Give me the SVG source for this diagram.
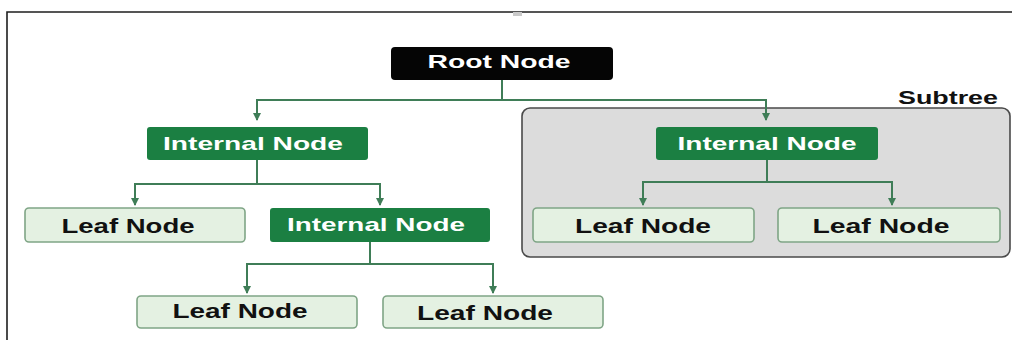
<svg xmlns="http://www.w3.org/2000/svg" width="1012" height="340" viewBox="0 0 1012 340">
  <style>
    .lbl { font-family: "Liberation Sans", Arial, sans-serif; font-weight: bold; font-size: 19px; text-anchor: middle; }
    .big { font-size: 20px; }
    .light { fill: #ffffff; }
    .dark { fill: #111111; }
    .root { fill: #050505; }
    .internal { fill: #1b7f42; }
    .leaf { fill: #e4f1e2; stroke: #7fa586; stroke-width: 1.6; }
    .edge { fill: none; stroke: #3f7d57; stroke-width: 2; }
  </style>
  <defs>
    <marker id="arrow" viewBox="0 0 8 8" refX="7" refY="4" markerWidth="8" markerHeight="8" markerUnits="userSpaceOnUse" orient="auto">
      <path d="M0,0 L8,4 L0,8 Z" fill="#3f7d57"/>
    </marker>
  </defs>

  <rect width="1012" height="340" fill="#ffffff"/>

  <!-- page frame -->
  <g id="frame">
    <path d="M7,340 V12 H1012" fill="none" stroke="#1e1e1e" stroke-width="1.6"/>
    <rect x="513" y="12" width="9" height="4" fill="#c9c9c9"/>
  </g>

  <!-- subtree panel -->
  <g id="subtree">
    <rect x="522" y="108" width="488" height="149" rx="8" fill="#dcdcdc" stroke="#4a4a4a" stroke-width="1.6"/>
    <text class="lbl dark" x="948" y="104" textLength="100" lengthAdjust="spacingAndGlyphs">Subtree</text>
  </g>

  <!-- connectors -->
  <g id="connectors">
    <path class="edge" d="M502,80 V100 H257 V120" marker-end="url(#arrow)"/>
    <path class="edge" d="M502,100 H766 V120" marker-end="url(#arrow)"/>
    <path class="edge" d="M257,160 V184 H135 V205" marker-end="url(#arrow)"/>
    <path class="edge" d="M257,184 H380 V205" marker-end="url(#arrow)"/>
    <path class="edge" d="M370,242 V264 H247 V293" marker-end="url(#arrow)"/>
    <path class="edge" d="M370,264 H493 V293" marker-end="url(#arrow)"/>
    <path class="edge" d="M767,160 V182 H643 V205" marker-end="url(#arrow)"/>
    <path class="edge" d="M767,182 H892 V205" marker-end="url(#arrow)"/>
  </g>

  <!-- nodes -->
  <g id="root">
    <rect class="root" x="391" y="47" width="222" height="33" rx="4"/>
    <text class="lbl light" x="499" y="68" textLength="143" lengthAdjust="spacingAndGlyphs">Root Node</text>
  </g>

  <g id="internal-left">
    <rect class="internal" x="147" y="127" width="221" height="33" rx="3"/>
    <text class="lbl light" x="253" y="150" textLength="180" lengthAdjust="spacingAndGlyphs">Internal Node</text>
  </g>

  <g id="internal-right">
    <rect class="internal" x="656" y="127" width="222" height="33" rx="3"/>
    <text class="lbl light" x="767" y="150" textLength="179" lengthAdjust="spacingAndGlyphs">Internal Node</text>
  </g>

  <g id="leaf-1">
    <rect class="leaf" x="25" y="208" width="220" height="34" rx="4"/>
    <text class="lbl big dark" x="128" y="233" textLength="133" lengthAdjust="spacingAndGlyphs">Leaf Node</text>
  </g>

  <g id="internal-mid">
    <rect class="internal" x="270" y="208" width="220" height="34" rx="3"/>
    <text class="lbl light" x="376" y="231" textLength="178" lengthAdjust="spacingAndGlyphs">Internal Node</text>
  </g>

  <g id="leaf-2">
    <rect class="leaf" x="533" y="208" width="221" height="34" rx="4"/>
    <text class="lbl big dark" x="643" y="233" textLength="136" lengthAdjust="spacingAndGlyphs">Leaf Node</text>
  </g>

  <g id="leaf-3">
    <rect class="leaf" x="778" y="208" width="222" height="34" rx="4"/>
    <text class="lbl big dark" x="881" y="233" textLength="137" lengthAdjust="spacingAndGlyphs">Leaf Node</text>
  </g>

  <g id="leaf-4">
    <rect class="leaf" x="137" y="296" width="220" height="32" rx="4"/>
    <text class="lbl big dark" x="240" y="318" textLength="135" lengthAdjust="spacingAndGlyphs">Leaf Node</text>
  </g>

  <g id="leaf-5">
    <rect class="leaf" x="383" y="296" width="220" height="32" rx="4"/>
    <text class="lbl big dark" x="485" y="320" textLength="136" lengthAdjust="spacingAndGlyphs">Leaf Node</text>
  </g>
</svg>
